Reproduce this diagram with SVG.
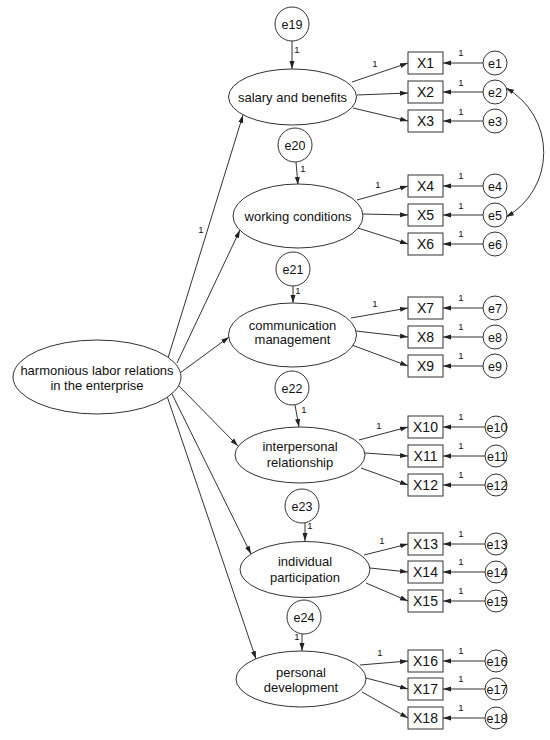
<svg xmlns="http://www.w3.org/2000/svg" width="550" height="740" viewBox="0 0 550 740">
<style>
.sh{fill:#fff;stroke:#333;stroke-width:1}
.ln{fill:none;stroke:#333;stroke-width:1}
text{font-family:"Liberation Sans",Arial,sans-serif;fill:#111;text-anchor:middle}
.t{font-size:13px}
.x{font-size:14px}
.e{font-size:12.5px}
.o{font-size:9.5px}
</style>
<defs>
<marker id="ah" markerUnits="userSpaceOnUse" markerWidth="9" markerHeight="6" refX="8" refY="3" orient="auto-start-reverse">
<path d="M0,0.5 L8,3 L0,5.5 z" fill="#222"/>
</marker>
</defs>
<rect width="550" height="740" fill="#fff"/>

<g id="connectors">
<path class="ln" marker-end="url(#ah)" d="M168,358 L243,115"/>
<path class="ln" marker-end="url(#ah)" d="M177,363 L240,230"/>
<path class="ln" marker-end="url(#ah)" d="M180,373 L229,337"/>
<path class="ln" marker-end="url(#ah)" d="M178,385 L238,446"/>
<path class="ln" marker-end="url(#ah)" d="M172,394 L251,554"/>
<path class="ln" marker-end="url(#ah)" d="M167,396 L256,659"/>
<path class="ln" marker-end="url(#ah)" d="M292,41 L292,69"/>
<path class="ln" marker-end="url(#ah)" d="M296,162 L298,185"/>
<path class="ln" marker-end="url(#ah)" d="M293,286 L293,303"/>
<path class="ln" marker-end="url(#ah)" d="M295,405 L299,427"/>
<path class="ln" marker-end="url(#ah)" d="M305,523 L305,541"/>
<path class="ln" marker-end="url(#ah)" d="M302,634 L302,651"/>
<path class="ln" marker-end="url(#ah)" d="M352,82 L408,63"/>
<path class="ln" marker-end="url(#ah)" d="M357,95 L408,93"/>
<path class="ln" marker-end="url(#ah)" d="M353,108 L408,121"/>
<path class="ln" marker-end="url(#ah)" d="M357,200 L408,186"/>
<path class="ln" marker-end="url(#ah)" d="M363,214 L408,215"/>
<path class="ln" marker-end="url(#ah)" d="M358,228 L408,244"/>
<path class="ln" marker-end="url(#ah)" d="M351,318 L408,308"/>
<path class="ln" marker-end="url(#ah)" d="M356,331 L408,337"/>
<path class="ln" marker-end="url(#ah)" d="M352,345 L408,366"/>
<path class="ln" marker-end="url(#ah)" d="M359,440 L408,427"/>
<path class="ln" marker-end="url(#ah)" d="M365,453 L408,456"/>
<path class="ln" marker-end="url(#ah)" d="M361,468 L408,485"/>
<path class="ln" marker-end="url(#ah)" d="M364,555 L408,544"/>
<path class="ln" marker-end="url(#ah)" d="M370,568 L408,572"/>
<path class="ln" marker-end="url(#ah)" d="M366,583 L408,601"/>
<path class="ln" marker-end="url(#ah)" d="M360,665 L408,661"/>
<path class="ln" marker-end="url(#ah)" d="M366,678 L408,689"/>
<path class="ln" marker-end="url(#ah)" d="M362,692 L408,718"/>
<path class="ln" marker-end="url(#ah)" d="M483,63 L443,63"/>
<path class="ln" marker-end="url(#ah)" d="M483,92 L443,92"/>
<path class="ln" marker-end="url(#ah)" d="M483,121 L443,121"/>
<path class="ln" marker-end="url(#ah)" d="M483,186 L443,186"/>
<path class="ln" marker-end="url(#ah)" d="M483,215 L443,215"/>
<path class="ln" marker-end="url(#ah)" d="M483,244 L443,244"/>
<path class="ln" marker-end="url(#ah)" d="M483,308 L443,308"/>
<path class="ln" marker-end="url(#ah)" d="M483,337 L443,337"/>
<path class="ln" marker-end="url(#ah)" d="M483,366 L443,366"/>
<path class="ln" marker-end="url(#ah)" d="M485,427 L443,427"/>
<path class="ln" marker-end="url(#ah)" d="M485,456 L443,456"/>
<path class="ln" marker-end="url(#ah)" d="M485,485 L443,485"/>
<path class="ln" marker-end="url(#ah)" d="M485,544 L443,544"/>
<path class="ln" marker-end="url(#ah)" d="M485,572 L443,572"/>
<path class="ln" marker-end="url(#ah)" d="M485,601 L443,601"/>
<path class="ln" marker-end="url(#ah)" d="M485,661 L443,661"/>
<path class="ln" marker-end="url(#ah)" d="M485,689 L443,689"/>
<path class="ln" marker-end="url(#ah)" d="M485,718 L443,718"/>
<path class="ln" marker-start="url(#ah)" marker-end="url(#ah)" d="M506,88 A74,74 0 0 1 506,217"/>
<text class="o" x="201" y="233">1</text>
<text class="o" x="297" y="53">1</text>
<text class="o" x="303" y="172">1</text>
<text class="o" x="298" y="294">1</text>
<text class="o" x="304" y="413">1</text>
<text class="o" x="310" y="529">1</text>
<text class="o" x="297" y="640">1</text>
<text class="o" x="375" y="67">1</text>
<text class="o" x="378" y="188">1</text>
<text class="o" x="375" y="307">1</text>
<text class="o" x="379" y="429">1</text>
<text class="o" x="382" y="544">1</text>
<text class="o" x="380" y="656">1</text>
<text class="o" x="461" y="56">1</text>
<text class="o" x="461" y="86">1</text>
<text class="o" x="461" y="115">1</text>
<text class="o" x="461" y="179">1</text>
<text class="o" x="461" y="209">1</text>
<text class="o" x="461" y="237">1</text>
<text class="o" x="461" y="301">1</text>
<text class="o" x="461" y="330">1</text>
<text class="o" x="461" y="359">1</text>
<text class="o" x="461" y="420">1</text>
<text class="o" x="461" y="449">1</text>
<text class="o" x="461" y="478">1</text>
<text class="o" x="461" y="537">1</text>
<text class="o" x="461" y="565">1</text>
<text class="o" x="461" y="594">1</text>
<text class="o" x="461" y="654">1</text>
<text class="o" x="461" y="682">1</text>
<text class="o" x="461" y="711">1</text>
</g>

<g id="main">
<ellipse class="sh" cx="97" cy="377" rx="84" ry="37"/>
<text class="t" x="97" y="375">harmonious labor relations</text>
<text class="t" x="97" y="390">in the enterprise</text>
</g>

<g id="salary">
<ellipse class="sh" cx="292.5" cy="97" rx="64" ry="28"/>
<text class="t" x="292.5" y="102">salary and benefits</text>
</g>
<g id="working">
<ellipse class="sh" cx="298" cy="216" rx="65" ry="32"/>
<text class="t" x="298" y="220.5">working conditions</text>
</g>
<g id="communication">
<ellipse class="sh" cx="292.5" cy="335" rx="64" ry="32"/>
<text class="t" x="292.5" y="329.5">communication</text>
<text class="t" x="292.5" y="344">management</text>
</g>
<g id="interpersonal">
<ellipse class="sh" cx="300" cy="455" rx="65" ry="28"/>
<text class="t" x="300" y="451">interpersonal</text>
<text class="t" x="300" y="466.5">relationship</text>
</g>
<g id="individual">
<ellipse class="sh" cx="305" cy="569.5" rx="65" ry="28"/>
<text class="t" x="305" y="566">individual</text>
<text class="t" x="305" y="581.5">participation</text>
</g>
<g id="personal">
<ellipse class="sh" cx="301" cy="679" rx="65" ry="28"/>
<text class="t" x="301" y="676.5">personal</text>
<text class="t" x="301" y="692">development</text>
</g>

<g id="e19"><circle class="sh" cx="292" cy="24" r="17"/><text class="e" x="292" y="28.5">e19</text></g>
<g id="e20"><circle class="sh" cx="295" cy="145" r="17"/><text class="e" x="295" y="149.5">e20</text></g>
<g id="e21"><circle class="sh" cx="293" cy="269" r="17"/><text class="e" x="293" y="273.5">e21</text></g>
<g id="e22"><circle class="sh" cx="292" cy="388" r="17"/><text class="e" x="292" y="392.5">e22</text></g>
<g id="e23"><circle class="sh" cx="302" cy="506" r="17"/><text class="e" x="302" y="510.5">e23</text></g>
<g id="e24"><circle class="sh" cx="304" cy="617" r="17"/><text class="e" x="304" y="621.5">e24</text></g>

<g id="X1"><rect class="sh" x="408" y="52" width="35" height="22"/><text class="x" x="425.5" y="68">X1</text></g>
<g id="X2"><rect class="sh" x="408" y="81" width="35" height="22"/><text class="x" x="425.5" y="97">X2</text></g>
<g id="X3"><rect class="sh" x="408" y="110" width="35" height="22"/><text class="x" x="425.5" y="126">X3</text></g>
<g id="X4"><rect class="sh" x="408" y="175" width="35" height="22"/><text class="x" x="425.5" y="191">X4</text></g>
<g id="X5"><rect class="sh" x="408" y="204" width="35" height="22"/><text class="x" x="425.5" y="220">X5</text></g>
<g id="X6"><rect class="sh" x="408" y="233" width="35" height="22"/><text class="x" x="425.5" y="249">X6</text></g>
<g id="X7"><rect class="sh" x="408" y="297" width="35" height="22"/><text class="x" x="425.5" y="313">X7</text></g>
<g id="X8"><rect class="sh" x="408" y="326" width="35" height="22"/><text class="x" x="425.5" y="342">X8</text></g>
<g id="X9"><rect class="sh" x="408" y="355" width="35" height="22"/><text class="x" x="425.5" y="371">X9</text></g>
<g id="X10"><rect class="sh" x="408" y="416" width="35" height="22"/><text class="x" x="425.5" y="432">X10</text></g>
<g id="X11"><rect class="sh" x="408" y="445" width="35" height="22"/><text class="x" x="425.5" y="461">X11</text></g>
<g id="X12"><rect class="sh" x="408" y="474" width="35" height="22"/><text class="x" x="425.5" y="490">X12</text></g>
<g id="X13"><rect class="sh" x="408" y="533" width="35" height="22"/><text class="x" x="425.5" y="549">X13</text></g>
<g id="X14"><rect class="sh" x="408" y="561" width="35" height="22"/><text class="x" x="425.5" y="577">X14</text></g>
<g id="X15"><rect class="sh" x="408" y="590" width="35" height="22"/><text class="x" x="425.5" y="606">X15</text></g>
<g id="X16"><rect class="sh" x="408" y="650" width="35" height="22"/><text class="x" x="425.5" y="666">X16</text></g>
<g id="X17"><rect class="sh" x="408" y="678" width="35" height="22"/><text class="x" x="425.5" y="694">X17</text></g>
<g id="X18"><rect class="sh" x="408" y="707" width="35" height="22"/><text class="x" x="425.5" y="723">X18</text></g>

<g id="e1"><circle class="sh" cx="495" cy="63" r="12"/><text class="e" x="495" y="67.5">e1</text></g>
<g id="e2"><circle class="sh" cx="495" cy="92" r="12"/><text class="e" x="495" y="96.5">e2</text></g>
<g id="e3"><circle class="sh" cx="495" cy="121" r="12"/><text class="e" x="495" y="125.5">e3</text></g>
<g id="e4"><circle class="sh" cx="495" cy="186" r="12"/><text class="e" x="495" y="190.5">e4</text></g>
<g id="e5"><circle class="sh" cx="495" cy="215" r="12"/><text class="e" x="495" y="219.5">e5</text></g>
<g id="e6"><circle class="sh" cx="495" cy="244" r="12"/><text class="e" x="495" y="248.5">e6</text></g>
<g id="e7"><circle class="sh" cx="495" cy="308" r="12"/><text class="e" x="495" y="312.5">e7</text></g>
<g id="e8"><circle class="sh" cx="495" cy="337" r="12"/><text class="e" x="495" y="341.5">e8</text></g>
<g id="e9"><circle class="sh" cx="495" cy="366" r="12"/><text class="e" x="495" y="370.5">e9</text></g>
<g id="e10"><circle class="sh" cx="496" cy="427" r="11"/><text class="e" x="497" y="431.5">e10</text></g>
<g id="e11"><circle class="sh" cx="496" cy="456" r="11"/><text class="e" x="497" y="460.5">e11</text></g>
<g id="e12"><circle class="sh" cx="496" cy="485" r="11"/><text class="e" x="497" y="489.5">e12</text></g>
<g id="e13"><circle class="sh" cx="496" cy="544" r="11"/><text class="e" x="497" y="548.5">e13</text></g>
<g id="e14"><circle class="sh" cx="496" cy="572" r="11"/><text class="e" x="497" y="576.5">e14</text></g>
<g id="e15"><circle class="sh" cx="496" cy="601" r="11"/><text class="e" x="497" y="605.5">e15</text></g>
<g id="e16"><circle class="sh" cx="496" cy="661" r="11"/><text class="e" x="497" y="665.5">e16</text></g>
<g id="e17"><circle class="sh" cx="496" cy="689" r="11"/><text class="e" x="497" y="693.5">e17</text></g>
<g id="e18"><circle class="sh" cx="496" cy="718" r="11"/><text class="e" x="497" y="722.5">e18</text></g>
</svg>
